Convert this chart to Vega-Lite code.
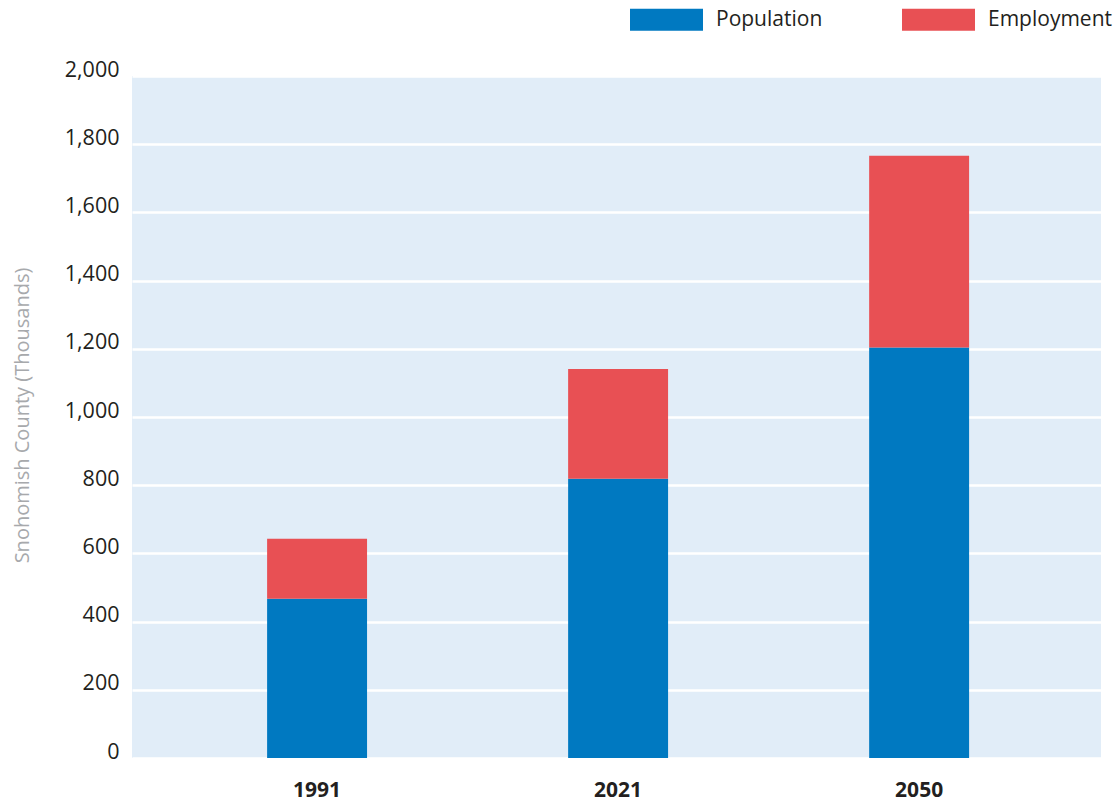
{
  "$schema": "https://vega.github.io/schema/vega-lite/v6.json",
  "autosize": {"type": "none"},
  "padding": {"left": 132, "top": 76, "right": 17, "bottom": 43},
  "width": 969,
  "height": 682,
  "background": "#ffffff",
  "config": {
    "view": {"fill": "#e1edf8", "stroke": null},
    "font": "Open Sans"
  },
  "data": {
    "values": [
      {"year": "1991", "measure": "Population", "value": 467},
      {"year": "1991", "measure": "Employment", "value": 176},
      {"year": "2021", "measure": "Population", "value": 819},
      {"year": "2021", "measure": "Employment", "value": 322},
      {"year": "2050", "measure": "Population", "value": 1204},
      {"year": "2050", "measure": "Employment", "value": 562}
    ]
  },
  "mark": {"type": "bar"},
  "encoding": {
    "x": {
      "field": "year",
      "type": "nominal",
      "scale": {"paddingInner": 0.668, "paddingOuter": 0.4435, "align": 0.506},
      "axis": {
        "title": null,
        "labelAngle": 0,
        "labelFontSize": 21,
        "labelFontWeight": "bold",
        "labelColor": "#231f20",
        "labelPadding": 21,
        "ticks": false,
        "domain": false
      }
    },
    "y": {
      "field": "value",
      "type": "quantitative",
      "stack": "zero",
      "scale": {"domain": [0, 2000], "nice": false},
      "axis": {
        "title": "Snohomish County (Thousands)",
        "titleColor": "#a7a9ac",
        "titleFontSize": 20,
        "titleFontWeight": "normal",
        "titleAngle": -90,
        "titleAlign": "center",
        "titleBaseline": "middle",
        "titleX": -110,
        "titleY": 339,
        "values": [0, 200, 400, 600, 800, 1000, 1200, 1400, 1600, 1800, 2000],
        "format": ",d",
        "labelFontSize": 21.5,
        "labelColor": "#231f20",
        "labelBaseline": "alphabetic",
        "labelPadding": 13,
        "ticks": false,
        "domain": false,
        "grid": true,
        "gridColor": "#ffffff",
        "gridWidth": 2.5,
        "gridOpacity": 1
      }
    },
    "color": {
      "field": "measure",
      "type": "nominal",
      "sort": ["Population", "Employment"],
      "scale": {
        "domain": ["Population", "Employment"],
        "range": ["#0079c1", "#e85054"]
      },
      "legend": {
        "title": null,
        "orient": "none",
        "legendX": 498,
        "legendY": -93,
        "direction": "horizontal",
        "columns": 2,
        "columnPadding": 79,
        "symbolType": "M-1,-0.3014 H1 V0.3014 H-1 Z",
        "symbolSize": 5329,
        "symbolStrokeWidth": 0,
        "symbolOpacity": 1,
        "labelFontSize": 21,
        "labelColor": "#231f20",
        "labelOffset": 13
      }
    },
    "order": {"field": "measure", "sort": "descending"}
  }
}
